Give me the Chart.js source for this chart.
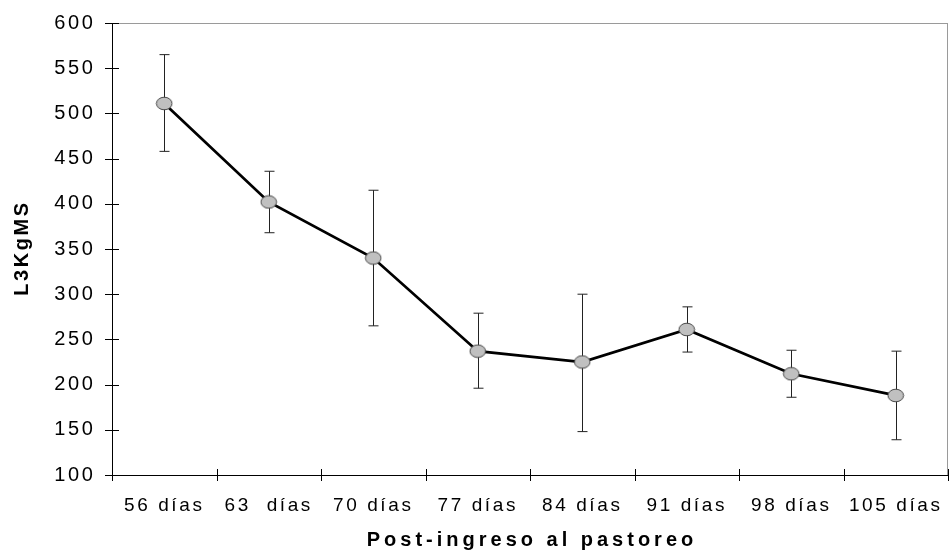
<!DOCTYPE html>
<html>
<head>
<meta charset="utf-8">
<script src="https://cdn.jsdelivr.net/npm/chart.js@4/dist/chart.umd.min.js"></script>
<style>
    html, body { margin: 0; padding: 0; background: #fff; overflow: hidden; }
    #wrap { width: 949px; height: 552px; }
    canvas { display: block; }
</style>
</head>
<body>
<div id="wrap"><canvas id="larvaeChart" width="949" height="552"></canvas></div>
<script>
// L3 per kg MS after grazing entry

const categories = ['56 días', '63  días', '70 días', '77 días', '84 días', '91 días', '98 días', '105 días'];
const means = [511, 402, 340, 237, 225, 261, 212, 188];
const upper = [565, 436, 415, 279, 300, 286, 238, 237];
const lower = [458, 368, 265, 196, 148, 236, 186, 139];
const yTicks = [100, 150, 200, 250, 300, 350, 400, 450, 500, 550, 600];

const xTitle = 'Post-ingreso al pastoreo';
const yTitle = 'L3KgMS';

const FONT = '"Liberation Sans", Arial, sans-serif';

// grey ellipse marker
function makeMarker() {
    const c = document.createElement('canvas');
    c.width = 18;
    c.height = 15;
    const g = c.getContext('2d');
    g.beginPath();
    g.ellipse(9, 7.5, 7.8, 6.3, 0, 0, Math.PI * 2);
    g.fillStyle = '#c0c0c0';
    g.fill();
    g.lineWidth = 1;
    g.strokeStyle = '#4a4a4a';
    g.stroke();
    return c;
}

const textSpacing = {
    id: 'textSpacing',
    beforeDraw(chart) {
        chart.ctx.letterSpacing = '2.6px';
    }
};

const errorBars = {
    id: 'errorBars',
    beforeDatasetsDraw(chart) {
        const { ctx, scales: { x, y } } = chart;
        ctx.save();
        ctx.strokeStyle = '#222';
        ctx.lineWidth = 1;
        means.forEach((m, i) => {
            const px = Math.round(x.getPixelForValue(i)) + 0.5;
            const top = y.getPixelForValue(upper[i]);
            const bot = y.getPixelForValue(lower[i]);
            ctx.beginPath();
            ctx.moveTo(px, top);
            ctx.lineTo(px, bot);
            ctx.moveTo(px - 5, top);
            ctx.lineTo(px + 5, top);
            ctx.moveTo(px - 5, bot);
            ctx.lineTo(px + 5, bot);
            ctx.stroke();
        });
        ctx.restore();
    }
};

const frame = {
    id: 'frame',
    afterDraw(chart) {
        const { ctx, chartArea: a, scales: { x, y } } = chart;
        ctx.save();
        // light top / right border
        ctx.strokeStyle = '#9a9a9a';
        ctx.lineWidth = 1;
        ctx.beginPath();
        ctx.moveTo(a.left, a.top + 0.5);
        ctx.lineTo(a.right, a.top + 0.5);
        ctx.moveTo(a.right - 0.5, a.top);
        ctx.lineTo(a.right - 0.5, a.bottom);
        ctx.stroke();

        // crossing tick marks
        ctx.strokeStyle = '#000';
        ctx.beginPath();
        yTicks.forEach(v => {
            const py = Math.round(y.getPixelForValue(v)) + 0.5;
            ctx.moveTo(a.left - 7, py);
            ctx.lineTo(a.left + 7, py);
        });
        for (let i = 0; i <= categories.length; i++) {
            const px = Math.round(x.getPixelForValue(i - 0.5)) + 0.5;
            ctx.moveTo(px, a.bottom - 6);
            ctx.lineTo(px, a.bottom + 6);
        }
        ctx.stroke();

        // axis titles
        ctx.fillStyle = '#000';
        ctx.font = 'bold 20px ' + FONT;
        ctx.letterSpacing = '4px';
        ctx.textAlign = 'center';
        ctx.textBaseline = 'alphabetic';
        ctx.fillText(xTitle, (a.left + a.right) / 2 + 2, 546);

        ctx.letterSpacing = '2.6px';
        ctx.translate(28, (a.top + a.bottom) / 2);
        ctx.rotate(-Math.PI / 2);
        ctx.fillText(yTitle, 1, 0);
        ctx.restore();
    }
};

const ctx = document.getElementById('larvaeChart').getContext('2d');
const larvaeChart = new Chart(ctx, {
    type: 'line',
    data: {
        labels: categories,
        datasets: [{
            label: 'L3KgMS',
            data: means,
            borderColor: '#000',
            borderWidth: 2.75,
            tension: 0,
            pointStyle: makeMarker(),
            pointRadius: 8,
            pointHoverRadius: 8
        }]
    },
    options: {
        responsive: false,
        animation: false,
        layout: { autoPadding: false, padding: { top: 23, right: 1, left: 0, bottom: 0 } },
        plugins: {
            legend: { display: false },
            tooltip: { enabled: false }
        },
        scales: {
            x: {
                offset: true,
                grid: { display: false, drawTicks: false },
                border: { color: '#000', width: 1 },
                ticks: {
                    color: '#000',
                    padding: 19,
                    maxRotation: 0,
                    autoSkip: false,
                    font: { family: FONT, size: 19 }
                },
                afterFit(scale) {
                    scale.height = 77;
                    scale.paddingLeft = 0;
                    scale.paddingRight = 0;
                }
            },
            y: {
                min: 100,
                max: 600,
                grid: { display: false, drawTicks: false },
                border: { color: '#000', width: 1 },
                ticks: {
                    stepSize: 50,
                    color: '#000',
                    padding: 16.5,
                    font: { family: FONT, size: 20 }
                },
                afterFit(scale) {
                    scale.width = 112;
                    scale.paddingTop = 0;
                    scale.paddingBottom = 0;
                }
            }
        }
    },
    plugins: [textSpacing, errorBars, frame]
});
</script>
</body>
</html>
